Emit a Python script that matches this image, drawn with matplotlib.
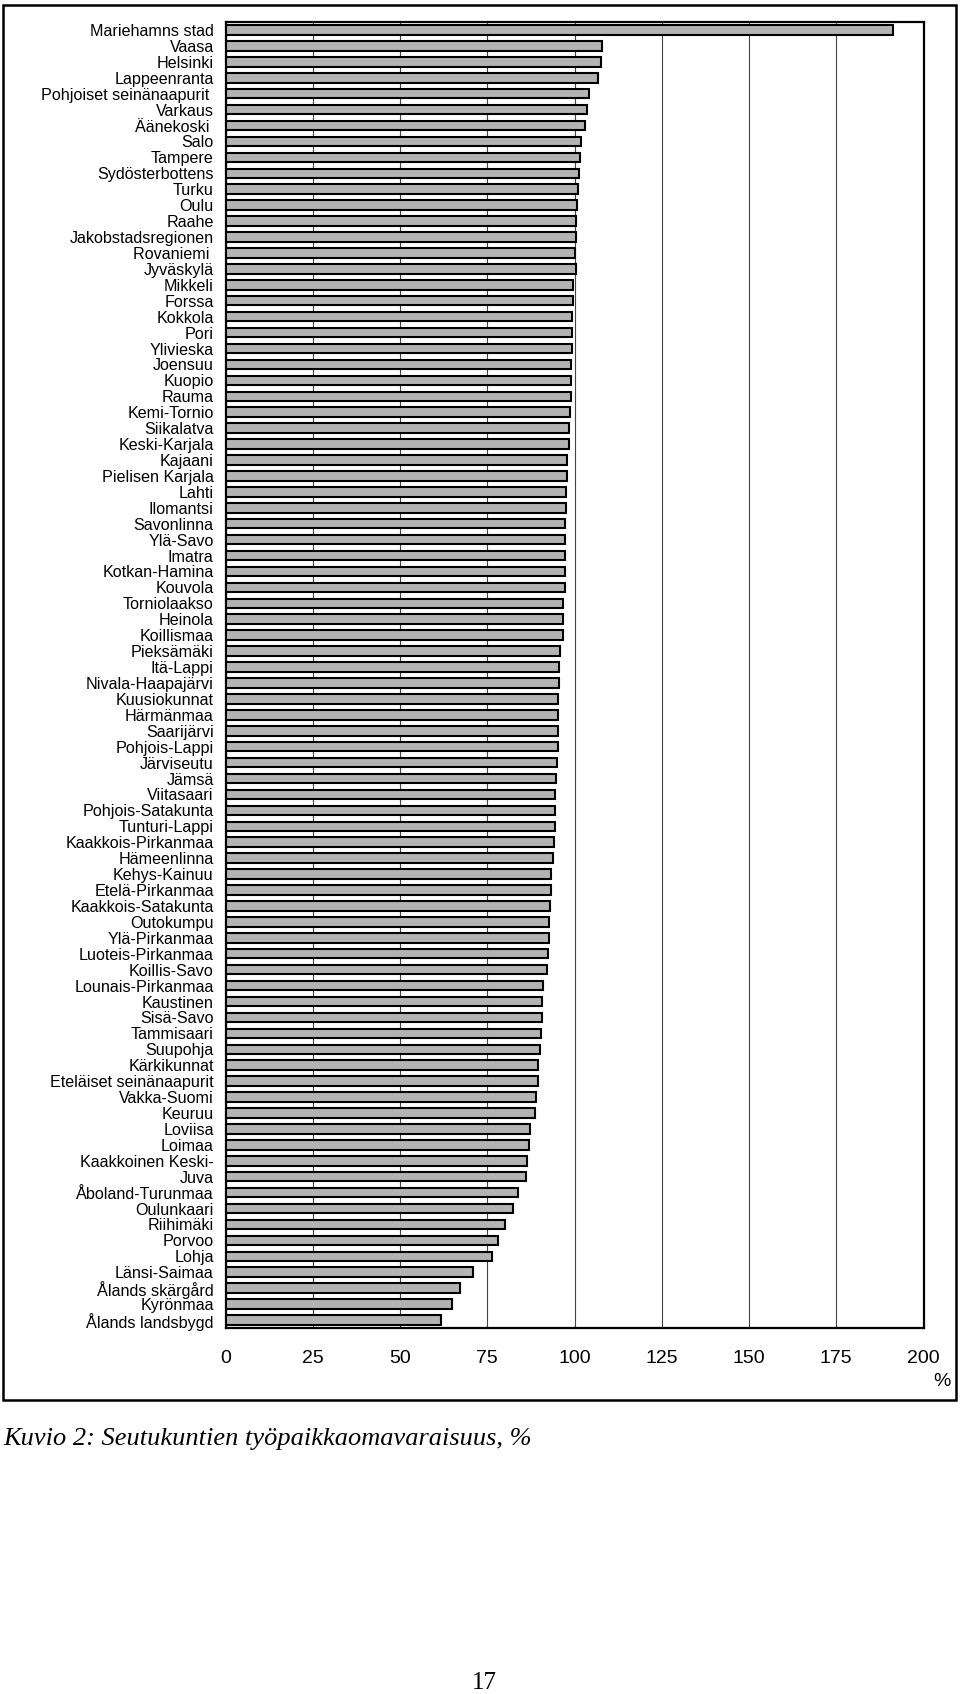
import matplotlib
matplotlib.use("Agg")
import matplotlib.pyplot as plt
from matplotlib.patches import Rectangle

regions = [
    "Mariehamns stad", "Vaasa", "Helsinki", "Lappeenranta", "Pohjoiset seinänaapurit ",
    "Varkaus", "Äänekoski ", "Salo", "Tampere", "Sydösterbottens",
    "Turku", "Oulu", "Raahe", "Jakobstadsregionen", "Rovaniemi ",
    "Jyväskylä", "Mikkeli", "Forssa", "Kokkola", "Pori",
    "Ylivieska", "Joensuu", "Kuopio", "Rauma", "Kemi-Tornio",
    "Siikalatva", "Keski-Karjala", "Kajaani", "Pielisen Karjala", "Lahti",
    "Ilomantsi", "Savonlinna", "Ylä-Savo", "Imatra", "Kotkan-Hamina",
    "Kouvola", "Torniolaakso", "Heinola", "Koillismaa", "Pieksämäki",
    "Itä-Lappi", "Nivala-Haapajärvi", "Kuusiokunnat", "Härmänmaa", "Saarijärvi",
    "Pohjois-Lappi", "Järviseutu", "Jämsä", "Viitasaari", "Pohjois-Satakunta",
    "Tunturi-Lappi", "Kaakkois-Pirkanmaa", "Hämeenlinna", "Kehys-Kainuu", "Etelä-Pirkanmaa",
    "Kaakkois-Satakunta", "Outokumpu", "Ylä-Pirkanmaa", "Luoteis-Pirkanmaa", "Koillis-Savo",
    "Lounais-Pirkanmaa", "Kaustinen", "Sisä-Savo", "Tammisaari", "Suupohja",
    "Kärkikunnat", "Eteläiset seinänaapurit", "Vakka-Suomi", "Keuruu", "Loviisa",
    "Loimaa", "Kaakkoinen Keski-", "Juva", "Åboland-Turunmaa", "Oulunkaari",
    "Riihimäki", "Porvoo", "Lohja", "Länsi-Saimaa", "Ålands skärgård",
    "Kyrönmaa", "Ålands landsbygd",
]

values = [
    191.2, 107.8, 107.7, 106.8, 104.2,
    103.6, 103.1, 101.8, 101.7, 101.3,
    101.1, 100.8, 100.4, 100.3, 100.2,
    100.3, 99.5, 99.5, 99.4, 99.3,
    99.2, 99.1, 99.0, 98.9, 98.8,
    98.5, 98.3, 97.9, 97.8, 97.6,
    97.5, 97.3, 97.2, 97.2, 97.2,
    97.2, 96.8, 96.7, 96.6, 95.8,
    95.7, 95.5, 95.4, 95.3, 95.3,
    95.2, 94.9, 94.8, 94.4, 94.4,
    94.4, 94.0, 93.9, 93.3, 93.2,
    92.9, 92.8, 92.6, 92.4, 92.1,
    91.0, 90.8, 90.6, 90.4, 90.1,
    89.6, 89.5, 88.9, 88.6, 87.3,
    86.9, 86.4, 86.2, 83.8, 82.4,
    80.1, 78.1, 76.5, 71.0, 67.3,
    64.8, 61.7,
]

xticks = [0, 25, 50, 75, 100, 125, 150, 175, 200]

W, H = 960, 1694
fig = plt.figure(figsize=(W / 100, H / 100), dpi=100)
fig.patch.set_facecolor("white")

ax_left, ax_right = 225.5, 923.5
ax_top, ax_bottom = 22, 1328
ax = fig.add_axes([ax_left / W, 1 - ax_bottom / H, (ax_right - ax_left) / W, (ax_bottom - ax_top) / H])

pos = list(range(len(regions)))
ax.barh(pos, values, height=0.6, color="#b3b3b3", edgecolor="black", linewidth=1.5, zorder=3)

ax.set_xlim(0, 200)
ax.set_ylim(len(regions) - 0.5, -0.5)
ax.set_yticks(pos)
ax.set_yticklabels(regions, fontsize=11.6, family="Liberation Sans")
ax.set_xticks(xticks)
ax.set_xticklabels([str(t) for t in xticks], fontsize=14, family="Liberation Sans")
ax.tick_params(axis="y", length=0, pad=8.5)
ax.tick_params(axis="x", length=0, pad=16)
ax.grid(axis="x", color="#444444", linewidth=0.8, zorder=1)
ax.set_axisbelow(True)
for s in ax.spines.values():
    s.set_linewidth(1.6)
    s.set_color("black")

fig.text(942 / W, 1 - 1381 / H, "%", fontsize=14, family="Liberation Sans",
         ha="center", va="center")

fig.patches.append(Rectangle((3 / W, 1 - 1400 / H), (956 - 3) / W, (1400 - 5) / H,
                             transform=fig.transFigure, fill=False,
                             edgecolor="black", linewidth=1.8))

fig.text(3 / W, 1 - 1439 / H, "Kuvio 2: Seutukuntien työpaikkaomavaraisuus, %",
         fontsize=19, family="Liberation Serif", style="italic", ha="left", va="center")
fig.text(484 / W, 1 - 1683 / H, "17", fontsize=18, family="Liberation Serif",
         ha="center", va="center")

fig.savefig("out.png", dpi=100)
